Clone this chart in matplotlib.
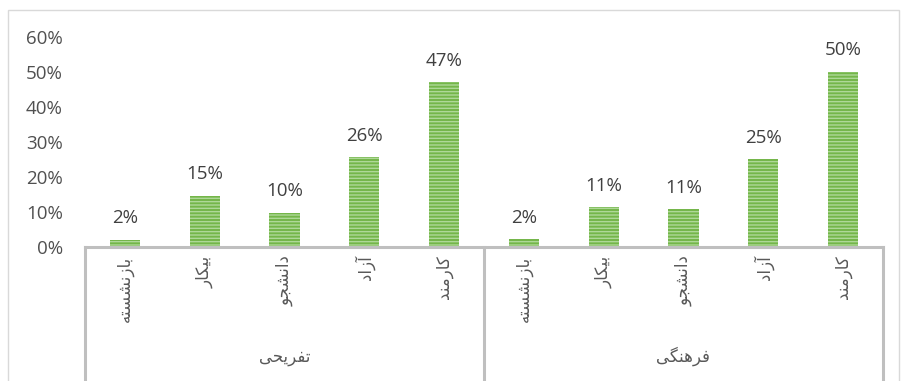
import matplotlib
matplotlib.use("Agg")
import matplotlib.pyplot as plt
from matplotlib.lines import Line2D
from matplotlib.patches import Rectangle

# data
groups = ["تفریحی", "فرهنگی"]
categories = ["بازنشسته", "بیکار", "دانشجو", "آزاد", "کارمند"]
leisure = [0.021, 0.146, 0.098, 0.257, 0.47]
cultural = [0.022, 0.113, 0.108, 0.25, 0.50]
y_ticks = [0.0, 0.1, 0.2, 0.3, 0.4, 0.5, 0.6]

# simple Arabic/Persian shaping (matplotlib has no text shaping)
# letter -> (isolated, final, initial, medial); right-joining letters have no initial/medial
FORMS = {
    "ا": ("\uFE8D", "\uFE8E", None, None),
    "آ": ("\uFE81", "\uFE82", None, None),
    "ب": ("\uFE8F", "\uFE90", "\uFE91", "\uFE92"),
    "ت": ("\uFE95", "\uFE96", "\uFE97", "\uFE98"),
    "ج": ("\uFE9D", "\uFE9E", "\uFE9F", "\uFEA0"),
    "ح": ("\uFEA1", "\uFEA2", "\uFEA3", "\uFEA4"),
    "د": ("\uFEA9", "\uFEAA", None, None),
    "ر": ("\uFEAD", "\uFEAE", None, None),
    "ز": ("\uFEAF", "\uFEB0", None, None),
    "س": ("\uFEB1", "\uFEB2", "\uFEB3", "\uFEB4"),
    "ش": ("\uFEB5", "\uFEB6", "\uFEB7", "\uFEB8"),
    "ف": ("\uFED1", "\uFED2", "\uFED3", "\uFED4"),
    "م": ("\uFEE1", "\uFEE2", "\uFEE3", "\uFEE4"),
    "ن": ("\uFEE5", "\uFEE6", "\uFEE7", "\uFEE8"),
    "ه": ("\uFEE9", "\uFEEA", "\uFEEB", "\uFEEC"),
    "و": ("\uFEED", "\uFEEE", None, None),
    "ک": ("\uFB8E", "\uFB8F", "\uFB90", "\uFB91"),
    "گ": ("\uFB92", "\uFB93", "\uFB94", "\uFB95"),
    "ی": ("\uFBFC", "\uFBFD", "\uFBFE", "\uFBFF"),
}


def shape_rtl(text):
    out = []
    for i, ch in enumerate(text):
        if ch not in FORMS:
            out.append(ch)
            continue
        prev = text[i - 1] if i > 0 else None
        nxt = text[i + 1] if i + 1 < len(text) else None
        join_prev = prev in FORMS and FORMS[prev][2] is not None
        join_next = nxt in FORMS and FORMS[ch][2] is not None
        iso, fin, ini, med = FORMS[ch]
        if join_prev and join_next:
            out.append(med)
        elif join_prev:
            out.append(fin)
        elif join_next:
            out.append(ini)
        else:
            out.append(iso)
    return "".join(reversed(out))


values = leisure + cultural
labels = categories + categories
xs = list(range(len(values)))

plt.rcParams["hatch.linewidth"] = 1.0
fig = plt.figure(figsize=(9.01, 3.81), dpi=100)
ax = fig.add_axes([0.0943, 0.3517, 0.8857, 0.5512])

ax.bar(xs, values, width=0.38, color="#74B649", edgecolor="#AED897",
       linewidth=0, hatch="-----", zorder=2)

for x, v in zip(xs, values):
    ax.annotate(f"{v:.0%}", xy=(x, v), xytext=(0, 9), textcoords="offset points",
                ha="center", va="bottom", fontsize=13.5, family="Open Sans",
                color="#404040")

ax.set_xlim(-0.5, len(values) - 0.5)
ax.set_ylim(0, 0.6)
ax.set_yticks(y_ticks)
ax.set_yticklabels([f"{t:.0%}" for t in y_ticks], family="Open Sans",
                   fontsize=13.5, color="#505050")
ax.tick_params(axis="y", length=0, pad=16)
ax.set_xticks([])
for side in ("left", "right", "top"):
    ax.spines[side].set_visible(False)
ax.spines["bottom"].set_color("#BFBFBF")
ax.spines["bottom"].set_linewidth(2.2)

# category labels, rotated
for x, lab in zip(xs, labels):
    ax.annotate(shape_rtl(lab), xy=(x, 0), xycoords=("data", "axes fraction"),
                xytext=(0, -6), textcoords="offset points", rotation=90,
                ha="center", va="top", fontsize=12, family="DejaVu Sans",
                color="#595959")

# group labels and separators
n = len(categories)
for g, name in enumerate(groups):
    ax.annotate(shape_rtl(name), xy=(g * n + (n - 1) / 2, 0),
                xycoords=("data", "axes fraction"), xytext=(0, -79),
                textcoords="offset points", ha="center", va="center",
                fontsize=12, family="DejaVu Sans", color="#595959")
for sx in (-0.5, n - 0.5, 2 * n - 0.5):
    ax.add_line(Line2D([sx, sx], [0, -0.64], transform=ax.get_xaxis_transform(),
                       color="#BFBFBF", linewidth=2.2, clip_on=False))

# chart border
fig.add_artist(Rectangle((0.0089, -0.01), 0.989, 0.9838, transform=fig.transFigure,
                         fill=False, edgecolor="#D9D9D9", linewidth=1.0))

fig.savefig("out.png", dpi=100)
